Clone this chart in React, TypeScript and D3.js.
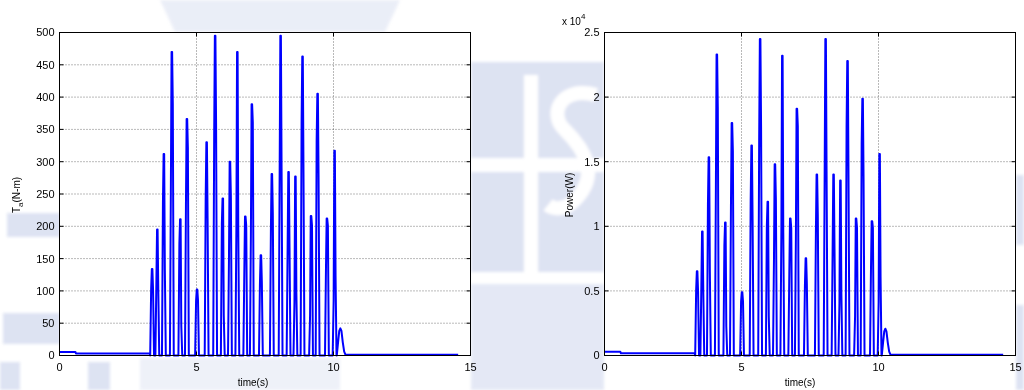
import React from "react";
import * as d3 from "d3";

// Pulse peak times (s), shared by both traces
const pulseTimes = [3.38, 3.57, 3.81, 4.1, 4.41, 4.65, 5.02, 5.37, 5.68, 5.96, 6.22, 6.49, 6.78, 7.02, 7.35, 7.75, 8.07, 8.36, 8.61, 8.87, 9.18, 9.42, 9.76, 10.04];

// Torque T_a (N-m): peak, knee on the rising edge, knee on the falling edge
const torquePeak = [134, 195, 312, 470, 211, 366, 102, 330, 495, 243, 300, 470, 215, 389, 155, 281, 495, 284, 277, 463, 216, 405, 212, 317];
const torqueRiseKnee = [103, 111, 237, 263, 173, 234, 85, 243, 340, 204, 150, 196, 129, 186, 111, 193, 286, 163, 83, 360, 62, 333, 134, 85];
const torqueFallKnee = [101, 103, 132, 390, 46, 322, 85, 212, 356, 62, 245, 193, 201, 361, 113, 219, 290, 167, 98, 281, 201, 276, 201, 124];

// Power (W): peak, rising knee, falling knee
const powerPeak = [6520, 9600, 15350, 23300, 10300, 18000, 4900, 16250, 24500, 11900, 14800, 23200, 10600, 19100, 7530, 14000, 24500, 14000, 13550, 22800, 10600, 19870, 10400, 15600];
const powerRiseKnee = [5070, 5460, 11660, 12940, 8510, 11510, 4180, 11960, 16730, 10040, 7380, 9640, 6350, 9150, 5460, 9500, 14070, 8020, 4080, 17710, 3050, 16380, 6590, 4180];
const powerFallKnee = [4970, 5070, 6490, 19190, 2260, 15840, 4180, 10430, 17520, 3050, 12050, 9500, 9890, 17760, 5560, 10770, 14270, 8220, 4820, 13830, 9890, 13580, 9890, 6100];

// Idle level before the pulses
const leadTimes = [0, 0.58, 0.6, 3.29];
const leadTorque = [5.5, 5.5, 3.2, 3.2];
const leadPower = [290, 290, 170, 170];

// Small trailing bump and the settled tail
const tailTimes = [10.12, 10.17, 10.21, 10.25, 10.29, 10.34, 10.39, 10.44, 14.55];
const tailTorque = [0, 22, 38, 42, 38, 20, 6, 1, 1];
const tailPower = [0, 1080, 1870, 2070, 1870, 980, 300, 50, 50];

const xTicks = [0, 5, 10, 15];
const torqueTicks = [0, 50, 100, 150, 200, 250, 300, 350, 400, 450, 500];
const powerTicks = [0, 5000, 10000, 15000, 20000, 25000];
const powerTickLabels = ["0", "0.5", "1", "1.5", "2", "2.5"];

const HALF = 0.07; // half width of a pulse base (s)
const FLAT = 0.01; // half width of the pulse crest (s)
const KNEE = 0.035;

function buildSeries(lead: number[], peak: number[], rise: number[], fall: number[], tail: number[]): [number, number][] {
  const pts: [number, number][] = [];
  leadTimes.forEach((t, i) => pts.push([t, lead[i]]));
  pulseTimes.forEach((tp, i) => {
    pts.push([tp - HALF, 0]);
    pts.push([tp - KNEE, rise[i]]);
    pts.push([tp - FLAT, peak[i]]);
    pts.push([tp + FLAT, peak[i]]);
    pts.push([tp + KNEE, fall[i]]);
    pts.push([tp + HALF, 0]);
  });
  tailTimes.forEach((t, i) => pts.push([t, tail[i]]));
  return pts;
}

const FONT = "'Liberation Sans', Arial, Helvetica, sans-serif";
const MARK = "#c2cce8";

type PanelProps = {
  left: number;
  right: number;
  top: number;
  bottom: number;
  yMax: number;
  yTicks: number[];
  yTickLabels: string[];
  data: [number, number][];
  xLabelX: number;
};

function Panel({ left, right, top, bottom, yMax, yTicks, yTickLabels, data, xLabelX }: PanelProps) {
  const x = d3.scaleLinear().domain([0, 15]).range([left, right]);
  const y = d3.scaleLinear().domain([0, yMax]).range([bottom, top]);
  const line = d3
    .line<[number, number]>()
    .x((d) => x(d[0]))
    .y((d) => y(d[1]));
  const tk = 4;
  return (
    <g>
      <rect x={left} y={top} width={right - left} height={bottom - top} fill="#fff" />
      {/* grid */}
      {yTicks.slice(1, -1).map((v) => (
        <line key={"gy" + v} x1={left} x2={right} y1={y(v)} y2={y(v)} stroke="#000" strokeOpacity={0.55} strokeWidth={1} strokeDasharray="1 2" />
      ))}
      {xTicks.slice(1, -1).map((v) => (
        <line key={"gx" + v} x1={x(v)} x2={x(v)} y1={top} y2={bottom} stroke="#000" strokeOpacity={0.55} strokeWidth={1} strokeDasharray="1 2" />
      ))}
      {/* trace */}
      <path d={line(data) || ""} fill="none" stroke="#0000ff" strokeWidth={2} strokeLinejoin="round" />
      {/* box */}
      <rect x={left} y={top} width={right - left} height={bottom - top} fill="none" stroke="#000" strokeWidth={1} />
      {/* ticks */}
      {yTicks.map((v) => (
        <g key={"ty" + v}>
          <line x1={left} x2={left + tk} y1={y(v)} y2={y(v)} stroke="#000" />
          <line x1={right} x2={right - tk} y1={y(v)} y2={y(v)} stroke="#000" />
        </g>
      ))}
      {xTicks.map((v) => (
        <g key={"tx" + v}>
          <line x1={x(v)} x2={x(v)} y1={bottom} y2={bottom - tk} stroke="#000" />
          <line x1={x(v)} x2={x(v)} y1={top} y2={top + tk} stroke="#000" />
        </g>
      ))}
      {/* tick labels */}
      {yTicks.map((v, i) => (
        <text key={"ly" + v} x={left - 5} y={y(v)} dy="0.36em" textAnchor="end" fontSize={11} fontFamily={FONT} fill="#000">
          {yTickLabels[i]}
        </text>
      ))}
      {xTicks.map((v) => (
        <text key={"lx" + v} x={x(v)} y={371} textAnchor="middle" fontSize={11} fontFamily={FONT} fill="#000">
          {v}
        </text>
      ))}
      <text x={xLabelX} y={386} textAnchor="middle" fontSize={10} fontFamily={FONT} fill="#000">
        time(s)
      </text>
    </g>
  );
}

// Faint page emblem printed behind the figure
function Emblem() {
  return (
    <g fill={MARK} opacity={0.55} filter="url(#soft)">
      <polygon points="160,0 400,0 385,32 175,32" opacity={0.6} />
      <rect x={7} y={213} width={53} height={24} />
      <rect x={3} y={313} width={57} height={31} />
      <rect x={0} y={362} width={20} height={28} />
      <rect x={88} y={362} width={22} height={28} />
      <rect x={140} y={358} width={200} height={32} opacity={0.5} />
      <rect x={471} y={62} width={133} height={96} />
      <rect x={471} y={172} width={133} height={100} />
      <rect x={471} y={284} width={133} height={106} opacity={0.8} />
      <rect x={524} y={75} width={14} height={200} fill="#fff" />
      <path d="M596,95 C560,85 548,115 565,130 C585,150 600,175 575,200 C560,215 548,205 548,205" fill="none" stroke="#fff" strokeWidth={14} />
      <rect x={1016} y={175} width={8} height={70} />
      <rect x={1016} y={305} width={8} height={85} />
    </g>
  );
}

export default function App() {
  const torqueData = buildSeries(leadTorque, torquePeak, torqueRiseKnee, torqueFallKnee, tailTorque);
  const powerData = buildSeries(leadPower, powerPeak, powerRiseKnee, powerFallKnee, tailPower);
  return (
    <svg width={1024} height={390} style={{ position: "absolute", left: 0, top: 0, background: "#fff" }}>
      <defs>
        <filter id="soft" x="-5%" y="-5%" width="110%" height="110%">
          <feGaussianBlur stdDeviation={1.5} />
        </filter>
      </defs>
      <rect width={1024} height={390} fill="#fff" />
      <Emblem />
      <Panel
        left={59.5}
        right={470.5}
        top={32.5}
        bottom={355.5}
        yMax={500}
        yTicks={torqueTicks}
        yTickLabels={torqueTicks.map(String)}
        data={torqueData}
        xLabelX={253}
      />
      <Panel
        left={604.5}
        right={1015.5}
        top={32.5}
        bottom={355.5}
        yMax={25000}
        yTicks={powerTicks}
        yTickLabels={powerTickLabels}
        data={powerData}
        xLabelX={800}
      />
      <text transform="translate(20,195) rotate(-90)" textAnchor="middle" fontSize={10} fontFamily={FONT} fill="#000">
        T<tspan fontSize={8} dy={3}>a</tspan>
        <tspan dy={-3}>(N-m)</tspan>
      </text>
      <text transform="translate(573,195) rotate(-90)" textAnchor="middle" fontSize={10} fontFamily={FONT} fill="#000">
        Power(W)
      </text>
      <text x={562} y={25} fontSize={10} fontFamily={FONT} fill="#000">
        x 10<tspan fontSize={8} dy={-6}>4</tspan>
      </text>
    </svg>
  );
}
